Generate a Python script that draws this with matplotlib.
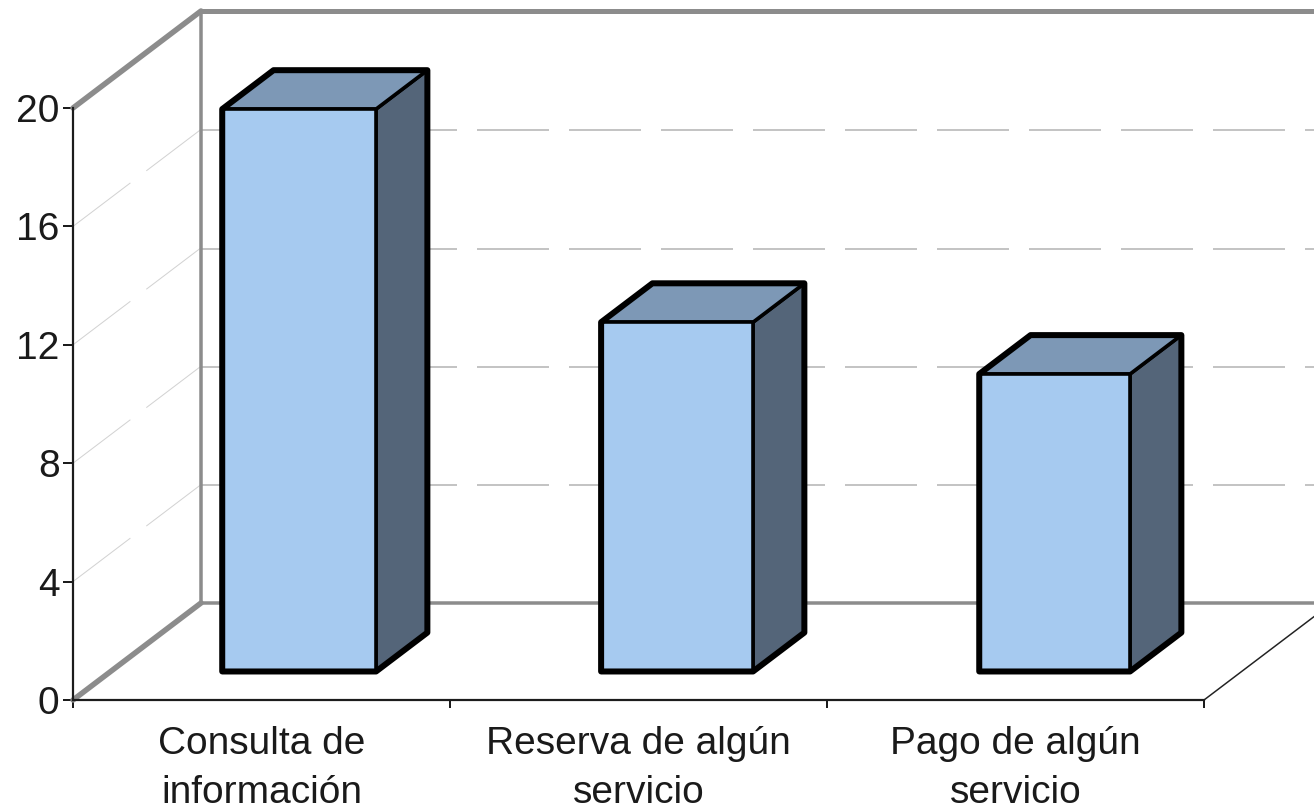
import matplotlib
matplotlib.use("Agg")
import matplotlib.pyplot as plt
from matplotlib.patches import Polygon

plt.rcParams["font.family"] = ["Liberation Sans", "DejaVu Sans"]
plt.rcParams["lines.scale_dashes"] = False

categories = ["Consulta de\ninformación", "Reserva de algún\nservicio", "Pago de algún\nservicio"]
values = [19, 11.8, 10.05]
y_ticks = [0, 4, 8, 12, 16, 20]

W, H = 1314, 811
LEFT, RIGHT, TOP, BOTTOM = 73, 1204, 108, 700
PX = 100 / 72  # pixels per point

# how far the back wall sits from the front plane, in data units
DEPTH_X = 128 / ((RIGHT - LEFT) / 3)
DEPTH_Y = 97 / ((BOTTOM - TOP) / 20)

BAR_WIDTH = [0.408, 0.403, 0.400]
BAR_HALF = 0.204
BAR_NEAR = 0.294
BAR_FAR = 0.695


def project(x, y, depth=0.0):
    return x + depth * DEPTH_X, y + depth * DEPTH_Y


fig = plt.figure(figsize=(W / 100, H / 100), dpi=100, facecolor="white")
ax = fig.add_axes([LEFT / W, 1 - BOTTOM / H, (RIGHT - LEFT) / W, (BOTTOM - TOP) / H])
ax.set_xlim(0, 3)
ax.set_ylim(0, 20)
ax.patch.set_visible(False)

for name in ["top", "right"]:
    ax.spines[name].set_visible(False)
for name in ["left", "bottom"]:
    ax.spines[name].set_linewidth(2.2 / PX)
    ax.spines[name].set_color("#1c1c1c")
    ax.spines[name].set_zorder(4)

# walls
wall = "#8c8c8c"
bx, by0 = project(0, 0, 1)
_, by1 = project(0, 20, 1)
ex, _ = project(3, 0, 1)
wall_kw = dict(color=wall, clip_on=False, zorder=2, solid_capstyle="round")
ax.plot([bx, bx], [by0, by1], lw=3.5 / PX, **wall_kw)
ax.plot([bx, ex], [by1, by1], lw=5 / PX, **wall_kw)
ax.plot([bx, ex], [by0, by0], lw=3.5 / PX, **wall_kw)
ax.plot([0, bx], [20, by1], lw=5.5 / PX, **wall_kw)
ax.plot([0, bx], [0, by0], lw=5.5 / PX, **wall_kw)
ax.plot([3, ex], [0, by0], lw=1.5 / PX, color="#222222", clip_on=False, zorder=3)

# gridlines, back wall and side wall
dash = (0, (72 / PX, 20 / PX))
for t in y_ticks[1:-1]:
    gx, gy = project(0, t, 1)
    ax.plot([bx, ex], [gy - 0.03, gy - 0.03], lw=2 / PX, color="#c4c4c4", linestyle=dash,
            clip_on=False, zorder=1, dash_capstyle="butt")
    ax.plot([0, gx], [t, gy], lw=1 / PX, color="#d2d2d2", linestyle=dash,
            clip_on=False, zorder=1, dash_capstyle="butt")

# bars
for i, v in enumerate(values):
    x1 = i + 0.5 + BAR_HALF
    x0 = x1 - BAR_WIDTH[i]
    front = [project(x0, 0, BAR_NEAR), project(x1, 0, BAR_NEAR), project(x1, v, BAR_NEAR), project(x0, v, BAR_NEAR)]
    side = [project(x1, 0, BAR_NEAR), project(x1, 0, BAR_FAR), project(x1, v, BAR_FAR), project(x1, v, BAR_NEAR)]
    top = [project(x0, v, BAR_NEAR), project(x1, v, BAR_NEAR), project(x1, v, BAR_FAR), project(x0, v, BAR_FAR)]
    outline = [front[0], front[1], side[1], side[2], top[3], front[3]]
    for pts, color in [(side, "#546579"), (top, "#7d98b6"), (front, "#a6caf0")]:
        ax.add_patch(Polygon(pts, closed=True, facecolor=color, edgecolor="black",
                             lw=3.6 / PX, joinstyle="round", clip_on=False, zorder=5))
    ax.add_patch(Polygon(outline, closed=True, fill=False, edgecolor="black",
                         lw=6 / PX, joinstyle="round", clip_on=False, zorder=6))

# ticks
ax.set_yticks(y_ticks)
ax.set_xticks([0, 1, 2, 3])
ax.set_xticklabels([])
ax.tick_params(axis="y", which="major", length=10 / PX, width=2 / PX, color="#1c1c1c",
               labelsize=28, labelcolor="#1a1a1a", pad=2.5)
ax.tick_params(axis="x", which="major", length=8 / PX, width=2 / PX, color="#1c1c1c")
ax.set_xticks([0.5, 1.5, 2.5], minor=True)
ax.set_xticklabels(categories, minor=True, fontsize=28, color="#1a1a1a", linespacing=1.46)
ax.tick_params(axis="x", which="minor", length=0, pad=19)

fig.savefig("out.png", dpi=100)
